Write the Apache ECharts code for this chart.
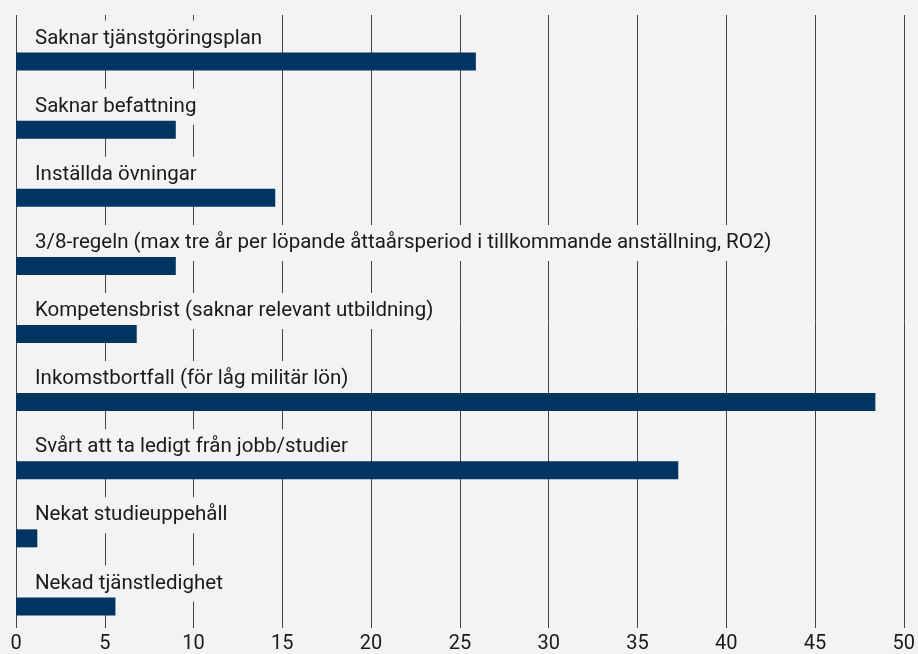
<!DOCTYPE html>
<html>
<head>
<meta charset="utf-8">
<script src="https://cdn.jsdelivr.net/npm/echarts@6/dist/echarts.min.js"></script>
<style>
  html, body { margin: 0; padding: 0; background: #f3f3f3; }
  #chart { width: 918px; height: 654px; }
</style>
</head>
<body>
<div id="chart"></div>
<script>
// Reasons, top to bottom
const categories = [
  'Saknar tjänstgöringsplan',
  'Saknar befattning',
  'Inställda övningar',
  '3/8-regeln (max tre år per löpande åttaårsperiod i tillkommande anställning, RO2)',
  'Kompetensbrist (saknar relevant utbildning)',
  'Inkomstbortfall (för låg militär lön)',
  'Svårt att ta ledigt från jobb/studier',
  'Nekat studieuppehåll',
  'Nekad tjänstledighet'
]
const values = [25.9, 9.0, 14.6, 9.0, 6.8, 48.4, 37.3, 1.2, 5.6]
const xTicks = [0, 5, 10, 15, 20, 25, 30, 35, 40, 45, 50]

const chart = echarts.init(document.getElementById('chart'))

const font = 'Roboto, "Noto Sans", sans-serif'

const option = {
  backgroundColor: '#f3f3f3',
  animation: false,
  grid: {
    top: 15,
    bottom: 22,
    left: 16,
    right: 10,
  },
  xAxis: {
    type: 'value',
    min: xTicks[0],
    max: xTicks[xTicks.length - 1],
    interval: 5,
    axisLine: { show: false },
    axisTick: { show: false },
    splitLine: {
      show: true,
      lineStyle: { color: '#444', width: 1 },
    },
    axisLabel: {
      color: '#1a1a1a',
      fontFamily: font,
      fontSize: 20,
      margin: 6,
    },
  },
  yAxis: {
    type: 'category',
    inverse: true,
    data: categories,
    axisLine: { show: false },
    axisTick: { show: false },
    axisLabel: { show: false },
    splitLine: { show: false },
  },
  series: [
    {
      // invisible slot that carries the text labels above each bar
      name: 'labels',
      type: 'bar',
      z: 1,
      silent: true,
      barWidth: 18,
      barGap: '39%',
      itemStyle: { color: 'rgba(0,0,0,0)' },
      label: {
        show: true,
        position: [9, 11],
        align: 'left',
        verticalAlign: 'middle',
        formatter: (p) => p.name,
        color: '#1a1a1a',
        fontFamily: font,
        fontSize: 20.5,
        lineHeight: 20,
        backgroundColor: '#f3f3f3',
        padding: [8, 8, 8, 10],
      },
      data: values,
    },
    {
      name: 'Andel',
      type: 'bar',
      z: 2,
      silent: true,
      barWidth: 18,
      itemStyle: { color: '#003461' },
      data: values,
    },
  ],
}

chart.setOption(option)
</script>
</body>
</html>
